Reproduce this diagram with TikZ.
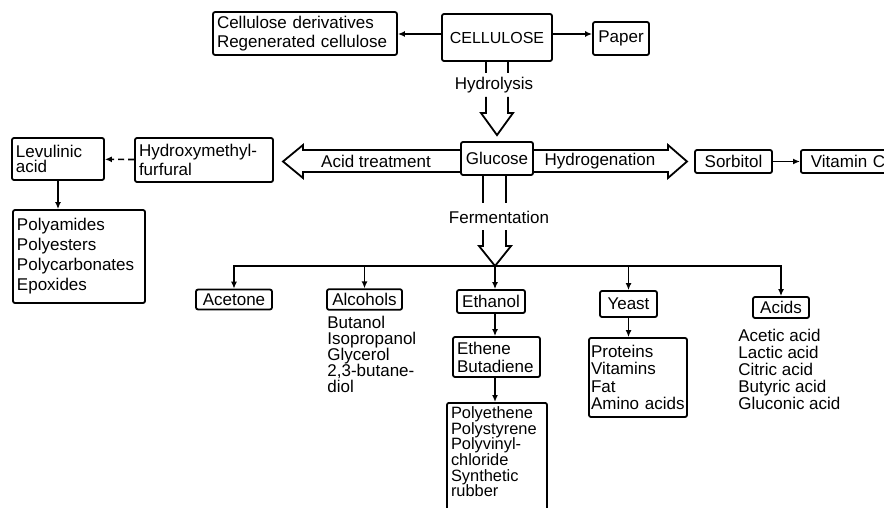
\documentclass[tikz,border=0pt]{standalone}
\usepackage{fontspec}
\setmainfont{Liberation Sans}
\usetikzlibrary{arrows.meta}

\tikzset{
	box/.style={draw, line width=0.9pt, rounded corners=1pt, inner sep=2pt, font=\fontsize{8.5}{9.5}\selectfont},
	list/.style={anchor=north west, inner sep=0pt, align=left},
	lbl/.style={inner sep=1pt, font=\fontsize{8.5}{9.5}\selectfont},
	link/.style={line width=0.8pt, -{Latex[length=3.5pt,width=3pt]}},
	hollow/.style={line width=0.9pt, line join=miter},
}

\begin{document}
\begin{tikzpicture}[x=0.5pt, y=-0.5pt]
	\useasboundingbox (0,0) rectangle (884,508);
	\node[box, minimum width=55pt, minimum height=23.5pt, font=\fontsize{8}{9}\selectfont] (cellulose) at (497,37.5) {CELLULOSE};
	\node[box, text width=88pt, align=left, minimum height=19.5pt] (deriv) at (305,33.5) {Cellulose derivatives\\Regenerated cellulose};
	\node[box, minimum width=28pt, minimum height=16.5pt] (paper) at (621,38.5) {Paper};
	\draw[link] (cellulose.west |- 0,34) -- (deriv.east |- 0,34);
	\draw[link] (cellulose.east |- 0,34) -- (paper.west |- 0,34);

	\node[box, minimum width=36pt, minimum height=16.5pt] (glucose) at (497,158.5) {Glucose};
	\node[lbl] (hydrolysis) at (494,85) {Hydrolysis};
	\draw[hollow] (cellulose.south -| 486,0) -- (486,73) (cellulose.south -| 508,0) -- (508,73);
	\draw[hollow] (486,97) -- (486,113) -- (481,113) -- ([yshift=3pt]glucose.north) -- (513,113) -- (508,113) -- (508,97);

	\draw[hollow] (glucose.west |- 0,150) -- (303,150) -- (303,145) -- (283,161.5) -- (303,178) -- (303,172) -- (glucose.west |- 0,172);
	\node[lbl] (acid) at (376,161) {Acid treatment};
	\draw[hollow] (glucose.east |- 0,150) -- (668,150) -- (668,145) -- (687,161.5) -- (668,178) -- (668,172) -- (glucose.east |- 0,172);
	\node[lbl] (hydrogenation) at (600,161) {Hydrogenation};

	\node[box, minimum width=38.5pt, minimum height=11.5pt] (sorbitol) at (733.5,161.5) {Sorbitol};
	\node[box, anchor=west, text width=44pt, align=left, inner xsep=5pt, minimum height=11.5pt] (vitaminc) at (800,161.5) {Vitamin C};
	\draw[link] (sorbitol) -- (vitaminc);

	\node[box, text width=42pt, align=left, minimum height=21pt, font={\fontsize{8.5}{7.5}\selectfont\lineskiplimit=-5pt}] (levulinic) at (58,159) {Levulinic\\acid};
	\node[box, text width=65pt, align=left, minimum height=22pt] (hmf) at (204,160) {Hydroxymethyl-\\furfural};
	\draw[link, dash pattern=on 3pt off 2pt] (hmf) -- (levulinic);
	\node[box, text width=62pt, align=left, minimum height=46.5pt, font=\fontsize{8.5}{10}\selectfont] (polymers) at (79,256.5) {Polyamides\\Polyesters\\Polycarbonates\\Epoxides};
	\draw[link] (levulinic.south) -- (levulinic.south |- polymers.north);

	\node[lbl] (fermentation) at (499,217) {Fermentation};
	\coordinate (split) at (495,266);
	\draw[hollow] (glucose.south -| 483,0) -- (483,203) (glucose.south -| 506,0) -- (506,203);
	\draw[hollow] (483,230) -- (483,246) -- (479,246) -- (split) -- (511,246) -- (506,246) -- (506,230);

	\node[box, minimum width=38pt, minimum height=9.5pt] (acetone) at (234,299.5) {Acetone};
	\node[box, minimum width=37.5pt, minimum height=9.5pt] (alcohols) at (364.5,299.5) {Alcohols};
	\node[box, minimum width=34pt, minimum height=11.5pt] (ethanol) at (491,301.5) {Ethanol};
	\node[box, minimum width=28.5pt, minimum height=13pt] (yeast) at (628.5,304) {Yeast};
	\node[box, minimum width=28pt, minimum height=10.5pt] (acids) at (781,307.5) {Acids};
	\draw[link] (split) -| (acetone.north);
	\draw[link] (split) -| (acids.north);
	\draw[link] (alcohols.north |- split) -- (alcohols.north);
	\draw[link] (split) -- (split |- ethanol.north);
	\draw[link] (yeast.north |- split) -- (yeast.north);

	\node[list, font=\fontsize{8.5}{8}\selectfont] (alcohollist) at (327,316) {Butanol\\Isopropanol\\Glycerol\\2,3-butane-\\diol};
	\node[list, font=\fontsize{8.5}{8.5}\selectfont] (acidlist) at (738,329) {Acetic acid\\Lactic acid\\Citric acid\\Butyric acid\\Gluconic acid};

	\node[box, text width=39.5pt, align=left, minimum height=20pt, font=\fontsize{8.5}{9}\selectfont] (ethene) at (496.5,357) {Ethene\\Butadiene};
	\node[box, text width=46pt, align=left, minimum height=55pt, anchor=north, font={\fontsize{8.2}{7.8}\selectfont\lineskiplimit=-5pt}] (polyeth) at (497,402) {Polyethene\\Polystyrene\\Polyvinyl-\\chloride\\Synthetic\\rubber\\[0pt]\mbox{}};
	\draw[link] (split |- ethanol.south) -- (split |- ethene.north);
	\draw[link] (split |- ethene.south) -- (split |- polyeth.north);

	\node[box, text width=47pt, align=left, inner xsep=1pt, minimum height=39.5pt, font=\fontsize{8.5}{8.7}\selectfont] (proteins) at (638,377.5) {Proteins\\Vitamins\\Fat\\Amino acids};
	\draw[link] (yeast.south) -- (yeast.south |- proteins.north);
\end{tikzpicture}
\end{document}
